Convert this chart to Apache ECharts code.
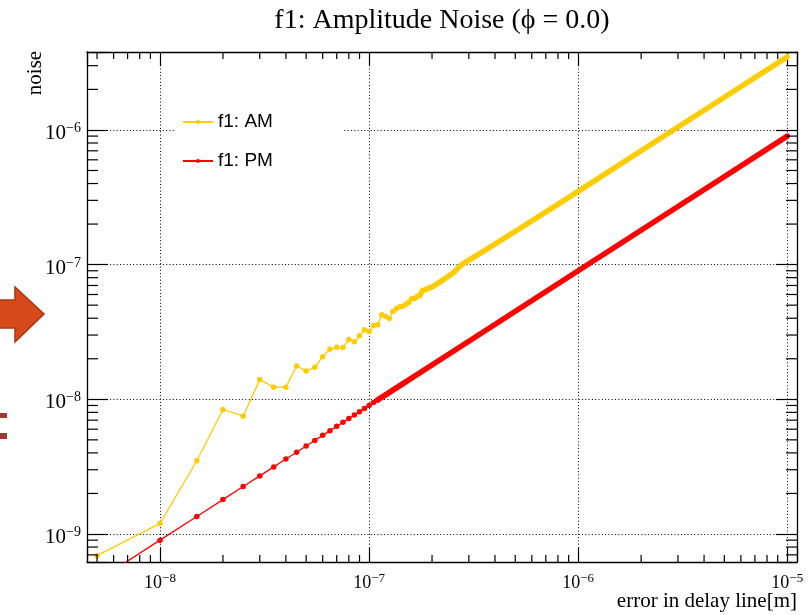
<!DOCTYPE html>
<html><head><meta charset="utf-8">
<script src="https://cdn.jsdelivr.net/npm/echarts@6/dist/echarts.min.js"></script>
<style>html,body{margin:0;padding:0;background:#fff}#c{width:808px;height:615px}</style>
</head><body><div id="c"></div>
<script>
// ---- data ----
const amX = [5e-9,1e-8,1.5e-8,2e-8,2.5e-8,3e-8,3.5e-8,4e-8,4.5e-8,5e-8,5.5e-8,6e-8,6.5e-8,7e-8,7.5e-8,8e-8,8.5e-8,9e-8,9.5e-8,1e-7,1.05e-7,1.1e-7,1.15e-7,1.2e-7,1.25e-7,1.3e-7,1.35e-7,1.4e-7,1.45e-7,1.5e-7,1.55e-7,1.6e-7,1.65e-7,1.7e-7,1.75e-7,1.8e-7];
const amY = [6.9e-10,1.2e-9,3.5e-9,8.4e-9,7.5e-9,1.4e-8,1.23e-8,1.23e-8,1.77e-8,1.62e-8,1.73e-8,2.07e-8,2.35e-8,2.44e-8,2.42e-8,2.78e-8,2.67e-8,2.96e-8,3.28e-8,3.19e-8,3.53e-8,3.57e-8,4.24e-8,4.12e-8,3.98e-8,4.49e-8,4.7e-8,4.86e-8,4.9e-8,5.08e-8,5.26e-8,5.57e-8,5.57e-8,5.82e-8,5.9e-8,6.38e-8];
const amDenseX = [1.75e-7,1.8e-7,2.03e-7,2.26e-7,2.53e-7,2.77e-7,3.5e-7,5.1e-7,7.3e-7,1e-6,2e-6,5e-6,1e-5];
const amDenseY = [5.9e-8,6.4e-8,6.9e-8,7.7e-8,8.7e-8,1.0e-7,1.25e-7,1.8e-7,2.56e-7,3.5e-7,7.0e-7,1.75e-6,3.49e-6];
const pmX = [5e-9,1e-8,1.5e-8,2e-8,2.5e-8,3e-8,3.5e-8,4e-8,4.5e-8,5e-8,5.5e-8,6e-8,6.5e-8,7e-8,7.5e-8,8e-8,8.5e-8,9e-8,9.5e-8,1e-7,1.05e-7,1.1e-7,1.15e-7,1.2e-7,1.25e-7,1.3e-7,1.35e-7,1.4e-7,1.45e-7,1.5e-7];
const pmY = [4.5e-10,9.0e-10,1.35e-9,1.8e-9,2.25e-9,2.7e-9,3.15e-9,3.6e-9,4.05e-9,4.5e-9,4.95e-9,5.4e-9,5.85e-9,6.3e-9,6.75e-9,7.2e-9,7.65e-9,8.1e-9,8.55e-9,9.0e-9,9.45e-9,9.9e-9,1.035e-8,1.08e-8,1.125e-8,1.17e-8,1.215e-8,1.26e-8,1.305e-8,1.35e-8];
const pmDenseX = [1.1e-7,3e-7,1e-6,3e-6,1e-5];
const pmDenseY = [9.9e-9,2.7e-8,9.0e-8,2.7e-7,9.0e-7];
const xMinorTicks = [5e-9,6e-9,7e-9,8e-9,9e-9,2e-8,3e-8,4e-8,5e-8,6e-8,7e-8,8e-8,9e-8,2e-7,3e-7,4e-7,5e-7,6e-7,7e-7,8e-7,9e-7,2e-6,3e-6,4e-6,5e-6,6e-6,7e-6,8e-6,9e-6];
const yMinorTicks = [7e-10,8e-10,9e-10,2e-9,3e-9,4e-9,5e-9,6e-9,7e-9,8e-9,9e-9,2e-8,3e-8,4e-8,5e-8,6e-8,7e-8,8e-8,9e-8,2e-7,3e-7,4e-7,5e-7,6e-7,7e-7,8e-7,9e-7,2e-6,3e-6];
const X_MIN = 4.476e-9, X_MAX = 1.113e-5;
const Y_MIN = 6.195e-10, Y_MAX = 3.79e-6;
const titleText = 'f1: Amplitude Noise (\u03d5 = 0.0)';
const xName = 'error in delay line[m]';
const yName = 'noise';
const amName = 'f1: AM', pmName = 'f1: PM';

const AM_COLOR = '#ffcc00', PM_COLOR = '#ff0000';
const SERIF = '"Liberation Serif","Times New Roman",serif';
const SANS = '"Liberation Sans",Arial,sans-serif';

function pairs(xs, ys){ return xs.map((x,i)=>[x, ys[i]]); }
function powLabel(v){
  const e = Math.log10(v), r = Math.round(e);
  if (Math.abs(e - r) > 1e-6) return '';
  return '{b|10}{s|' + (r < 0 ? '\u2212' + (-r) : r) + '}';
}

const chart = echarts.init(document.getElementById('c'), null, {renderer:'canvas'});
const gridLine = {show:true, lineStyle:{color:'#000', width:1, type:[1,2.3]}};
const axisLine = {show:true, lineStyle:{color:'#000', width:1.3}};

chart.setOption({
  animation:false,
  backgroundColor:'#fff',
  grid:{left:87, top:52, right:11, bottom:53, containLabel:false, outerBoundsMode:'none'},
  xAxis:[
    {type:'log', min:X_MIN, max:X_MAX, position:'bottom', axisLine:axisLine,
     axisTick:{show:true, inside:true, length:14, lineStyle:{color:'#000', width:1.2}},
     splitLine:gridLine, minorTick:{show:false},
     axisLabel:{show:true, margin:10, formatter:powLabel, color:'#000',
       rich:{b:{fontFamily:SERIF, fontSize:18, lineHeight:22, color:'#000'},
             s:{fontFamily:SERIF, fontSize:13, lineHeight:13, verticalAlign:'top', color:'#000'}}}},
    {type:'log', min:X_MIN, max:X_MAX, position:'top', axisLine:axisLine,
     axisTick:{show:true, inside:true, length:14, lineStyle:{color:'#000', width:1.2}},
     splitLine:{show:false}, axisLabel:{show:false}}
  ],
  yAxis:[
    {type:'log', min:Y_MIN, max:Y_MAX, position:'left', axisLine:axisLine,
     axisTick:{show:true, inside:true, length:21, lineStyle:{color:'#000', width:1.2}},
     splitLine:gridLine,
     axisLabel:{show:true, margin:6, formatter:powLabel, color:'#000', padding:[7,0,0,0],
       rich:{b:{fontFamily:SERIF, fontSize:21, lineHeight:24, color:'#000'},
             s:{fontFamily:SERIF, fontSize:14, lineHeight:14, verticalAlign:'top', color:'#000'}}}},
    {type:'log', min:Y_MIN, max:Y_MAX, position:'right', axisLine:axisLine,
     axisTick:{show:true, inside:true, length:21, lineStyle:{color:'#000', width:1.2}},
     splitLine:{show:false}, axisLabel:{show:false}}
  ],
  legend:{
    data:[amName, pmName], orient:'vertical', left:175, top:100,
    padding:[12,70,12,7], itemGap:19, itemWidth:30, itemHeight:5,
    backgroundColor:'#fff', borderWidth:0,
    textStyle:{fontFamily:SANS, fontSize:19, color:'#000', lineHeight:20},
    selectedMode:false
  },
  graphic:[
    {type:'text', x:442, y:21, style:{text:titleText, font:'28px ' + SERIF, fill:'#000', align:'center', verticalAlign:'middle'}},
    {type:'text', x:35, y:73, rotation:Math.PI/2, style:{text:yName, font:'21px ' + SERIF, fill:'#000', align:'center', verticalAlign:'middle'}},
    {type:'text', x:797, y:601, style:{text:xName, font:'21px ' + SERIF, fill:'#000', align:'right', verticalAlign:'middle'}},
    {type:'polygon', shape:{points:[[-2,300],[15,300],[15,287],[44,314],[15,342],[15,328],[-2,328]]}, style:{fill:'#d6491a', stroke:'#a9380f', lineWidth:1.5}},
    {type:'rect', shape:{x:0, y:413, width:7, height:5}, style:{fill:'#a3392e'}},
    {type:'rect', shape:{x:0, y:433, width:7, height:6}, style:{fill:'#a3392e'}}
  ],
  series:[
    {name:amName, type:'line', data:pairs(amX, amY), symbol:'circle', symbolSize:5.5, showSymbol:true, showAllSymbol:true,
     color:AM_COLOR, lineStyle:{color:AM_COLOR, width:1.3}, itemStyle:{color:AM_COLOR}, z:3},
    {name:'amDense', type:'line', data:pairs(amDenseX, amDenseY), symbol:'none',
     lineStyle:{color:AM_COLOR, width:5.5, cap:'round', join:'round'}, z:3},
    {name:pmName, type:'line', data:pairs(pmX, pmY), symbol:'circle', symbolSize:5.5, showSymbol:true, showAllSymbol:true,
     color:PM_COLOR, lineStyle:{color:PM_COLOR, width:1.3}, itemStyle:{color:PM_COLOR}, z:3},
    {name:'pmDense', type:'line', data:pairs(pmDenseX, pmDenseY), symbol:'none',
     lineStyle:{color:PM_COLOR, width:5.5, cap:'round', join:'round'}, z:3},
    {name:'xMinor', type:'custom', silent:true, clip:false, z:4,
     data:xMinorTicks.map(v=>[v, Y_MIN]),
     renderItem:function(params, api){
       const v = api.value(0);
       const b = api.coord([v, Y_MIN]), t = api.coord([v, Y_MAX]);
       const st = {stroke:'#000', lineWidth:1.2};
       return {type:'group', children:[
         {type:'line', shape:{x1:b[0], y1:b[1], x2:b[0], y2:b[1]-7}, style:st},
         {type:'line', shape:{x1:t[0], y1:t[1], x2:t[0], y2:t[1]+7}, style:st}]};
     }},
    {name:'yMinor', type:'custom', silent:true, clip:false, z:4,
     data:yMinorTicks.map(v=>[X_MIN, v]),
     renderItem:function(params, api){
       const v = api.value(1);
       const l = api.coord([X_MIN, v]), r = api.coord([X_MAX, v]);
       const st = {stroke:'#000', lineWidth:1.2};
       return {type:'group', children:[
         {type:'line', shape:{x1:l[0], y1:l[1], x2:l[0]+11, y2:l[1]}, style:st},
         {type:'line', shape:{x1:r[0], y1:r[1], x2:r[0]-11, y2:r[1]}, style:st}]};
     }}
  ]
});
</script></body></html>
